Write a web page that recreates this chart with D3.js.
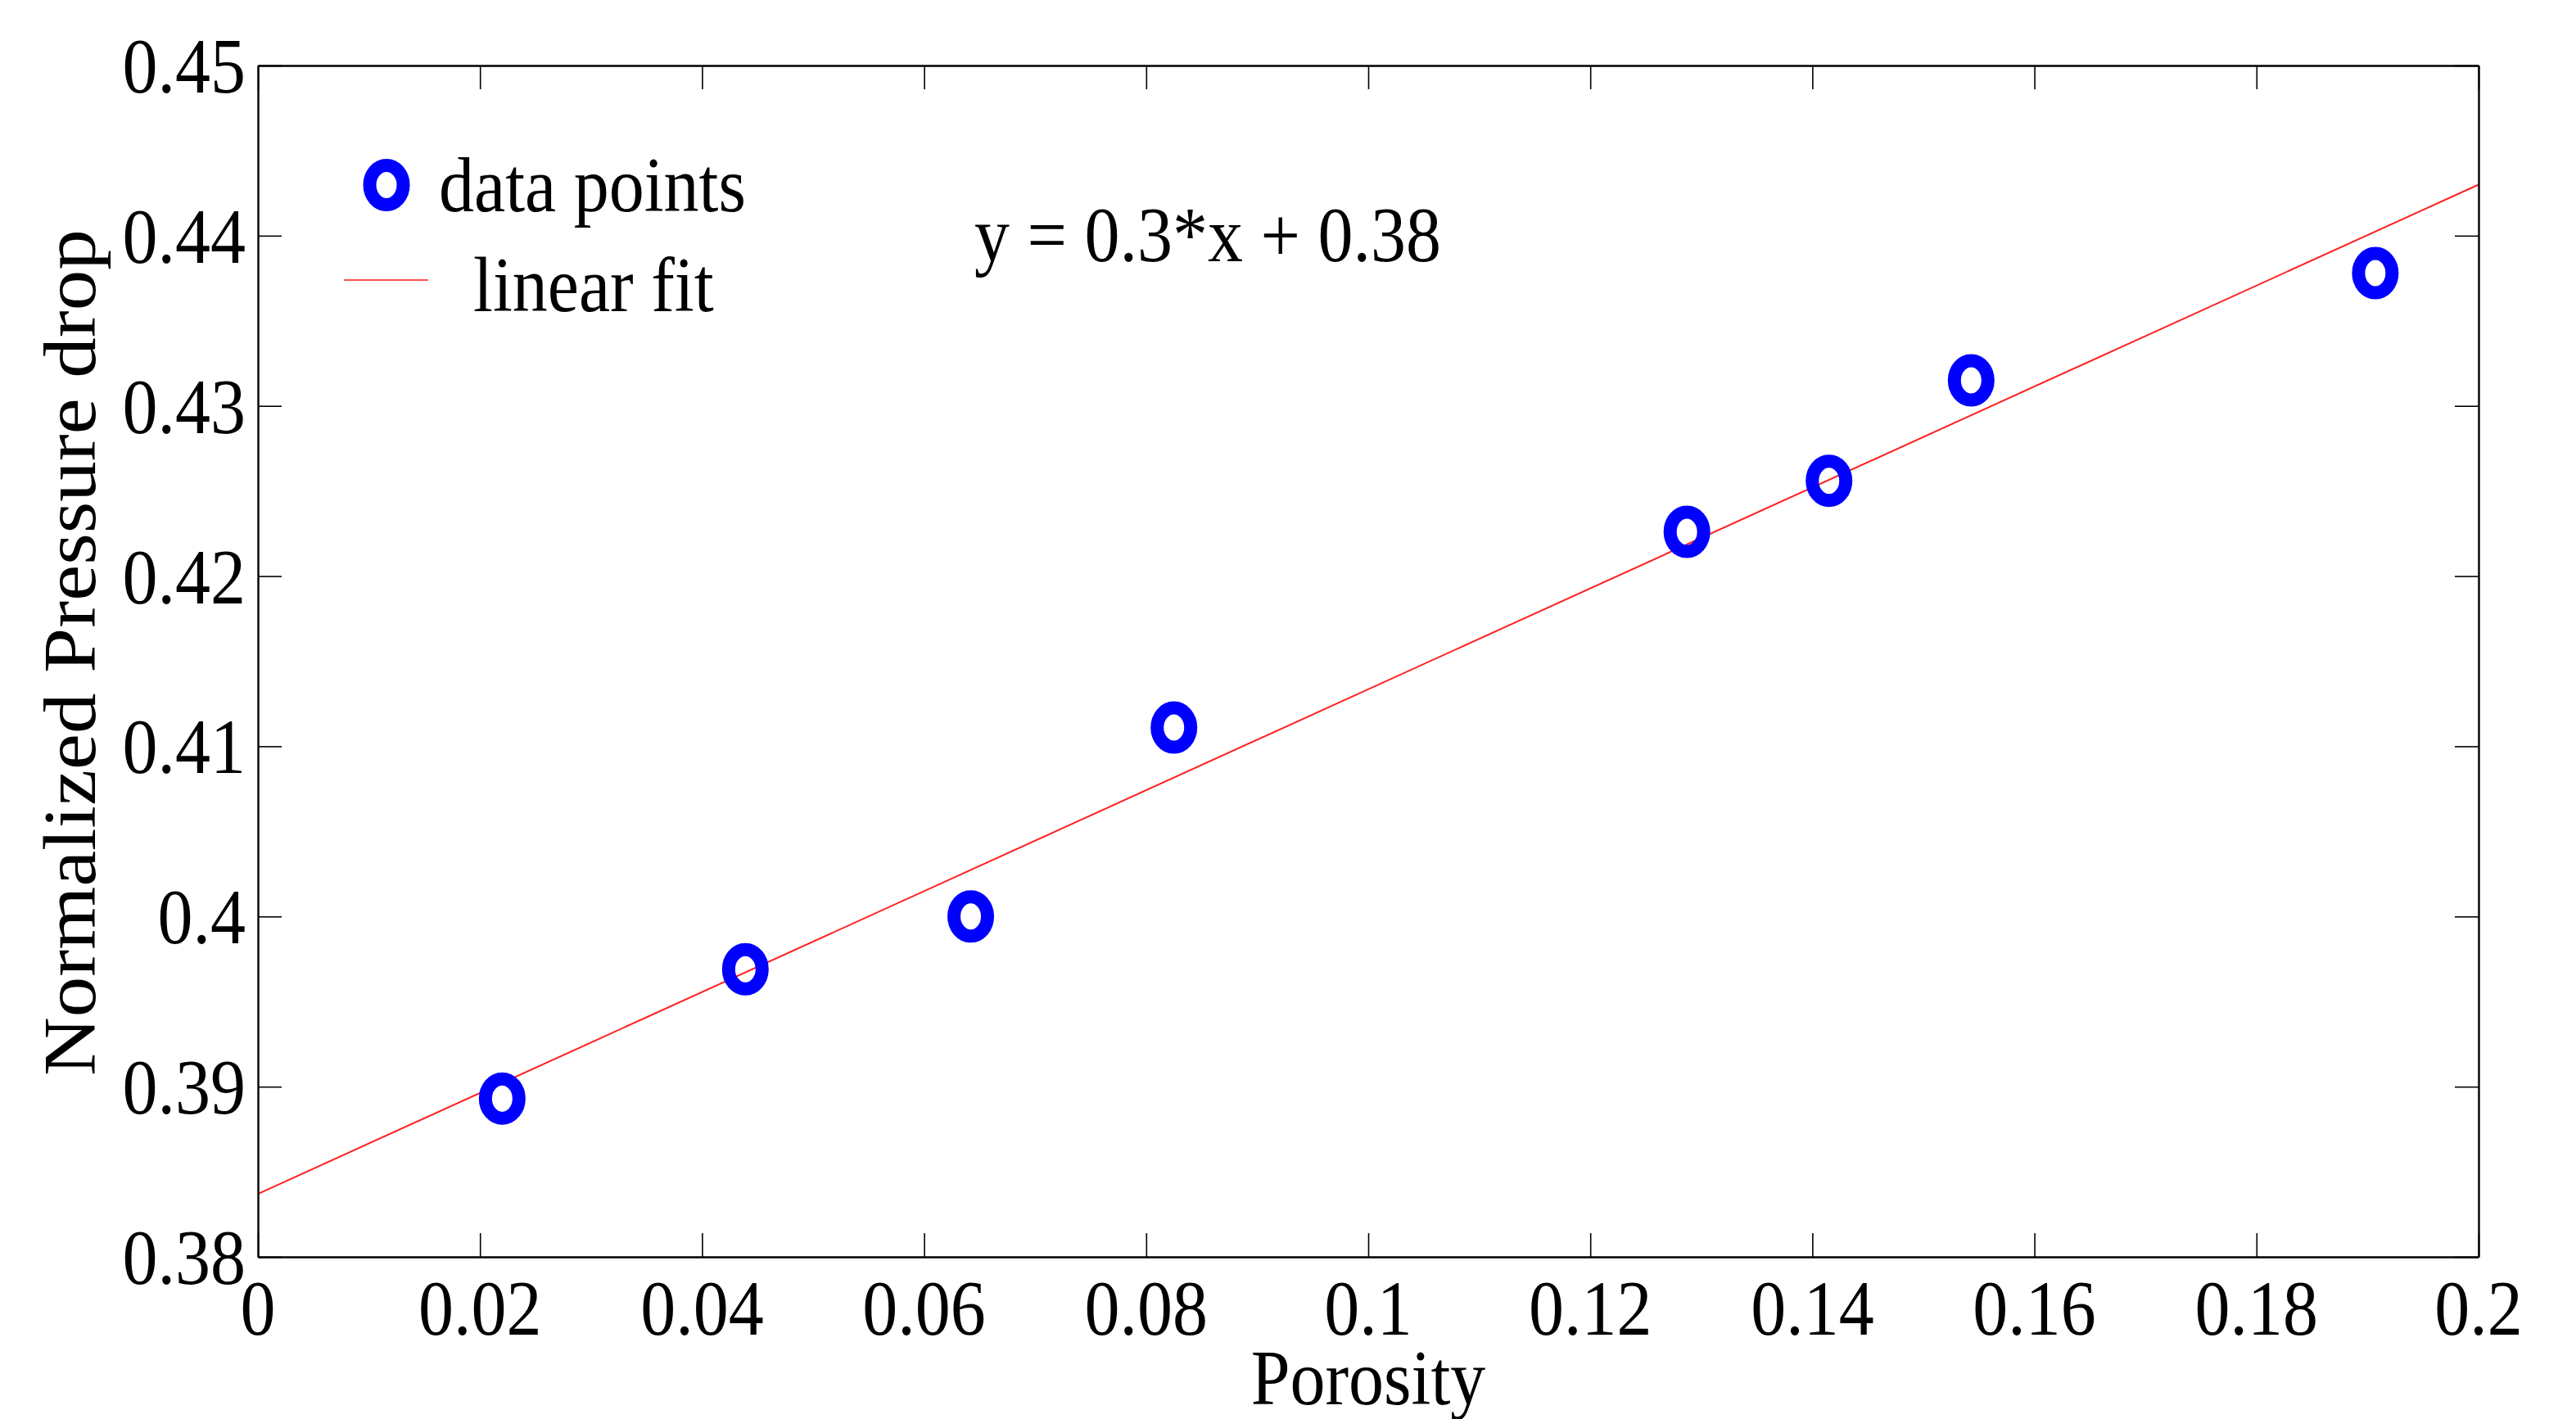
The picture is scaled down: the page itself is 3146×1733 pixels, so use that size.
<!DOCTYPE html>
<html>
<head>
<meta charset="utf-8">
<script src="https://cdn.jsdelivr.net/npm/d3@7"></script>
<style>
body { margin: 0; background: #fff; }
text { font-family: "Liberation Serif", "Times New Roman", serif; fill: #000; }
.tick-line { stroke: #000; stroke-width: 1.6; }
</style>
</head>
<body>
<div id="chart"></div>
<script>
// data
var porosity = [0.0220, 0.0439, 0.0642, 0.0825, 0.1287, 0.1415, 0.1543, 0.1907]
var pressureDrop = [0.3893, 0.3969, 0.4000, 0.4111, 0.4226, 0.4256, 0.4315, 0.4378]
var fitX = [0, 0.2]
var fitY = [0.3837, 0.4430]
var xTicks = [0, 0.02, 0.04, 0.06, 0.08, 0.1, 0.12, 0.14, 0.16, 0.18, 0.2]
var yTicks = [0.38, 0.39, 0.40, 0.41, 0.42, 0.43, 0.44, 0.45]
var xTickLabels = ['0', '0.02', '0.04', '0.06', '0.08', '0.1', '0.12', '0.14', '0.16', '0.18', '0.2']
var yTickLabels = ['0.38', '0.39', '0.4', '0.41', '0.42', '0.43', '0.44', '0.45']
var legendLabels = ['data points', 'linear fit']
var equationText = 'y = 0.3*x + 0.38'

var W = 3146, H = 1733
var plotL = 315, plotR = 3027, plotT = 80, plotB = 1535
var fs = 86, sy = 1.1, tickLen = 29

var svg = d3.select('#chart').append('svg').attr('width', W).attr('height', H)

var x = d3.scaleLinear().domain([0, 0.2]).range([plotL, plotR])
var y = d3.scaleLinear().domain([0.38, 0.45]).range([plotB, plotT])

// stretched text like the original picture
function label(g, tx, ty, str, anchor, size, rot) {
	return g.append('text')
		.attr('transform', 'translate(' + tx + ',' + ty + ') scale(1,' + sy + ')' + (rot ? ' rotate(' + rot + ')' : ''))
		.attr('text-anchor', anchor)
		.style('font-size', size + 'px')
		.text(str)
}

// fit line
svg.append('path').datum(d3.zip(fitX, fitY))
	.attr('fill', 'none').attr('stroke', '#ff2020').attr('stroke-width', 2)
	.attr('d', d3.line().x(function(d){ return x(d[0]) }).y(function(d){ return y(d[1]) }))

// axes box with inward ticks on all sides
var axes = svg.append('g')
axes.append('g').attr('transform', 'translate(0,' + plotB + ')')
	.call(d3.axisBottom(x).tickValues(xTicks).tickSizeInner(-tickLen).tickSizeOuter(0).tickFormat(''))
axes.append('g').attr('transform', 'translate(0,' + plotT + ')')
	.call(d3.axisTop(x).tickValues(xTicks).tickSizeInner(-tickLen).tickSizeOuter(0).tickFormat(''))
axes.append('g').attr('transform', 'translate(' + plotL + ',0)')
	.call(d3.axisLeft(y).tickValues(yTicks).tickSizeInner(-tickLen).tickSizeOuter(0).tickFormat(''))
axes.append('g').attr('transform', 'translate(' + plotR + ',0)')
	.call(d3.axisRight(y).tickValues(yTicks).tickSizeInner(-tickLen).tickSizeOuter(0).tickFormat(''))
axes.selectAll('.domain').attr('stroke', '#000').attr('stroke-width', 2.4)
axes.selectAll('.tick line').attr('class', 'tick-line')

// tick labels
var xl = svg.append('g')
xTicks.forEach(function(v, i){ label(xl, x(v), 1630, xTickLabels[i], 'middle', fs) })
var yl = svg.append('g')
yTicks.forEach(function(v, i){ label(yl, 300, y(v) + 33, yTickLabels[i], 'end', fs) })

// axis titles
label(svg, (plotL + plotR) / 2, 1715, 'Porosity', 'middle', fs)
label(svg, 116, 797, 'Normalized Pressure drop', 'middle', 90, -90)

// data markers
function ring(g, cx, cy) {
	g.append('ellipse').attr('cx', cx).attr('cy', cy)
		.attr('rx', 20.5).attr('ry', 24)
		.attr('fill', 'none').attr('stroke', '#0000ff').attr('stroke-width', 16)
}
var pts = svg.append('g')
porosity.forEach(function(v, i){ ring(pts, x(v), y(pressureDrop[i])) })

// legend
var lg = svg.append('g')
ring(lg, 472, 226)
label(lg, 536, 258, legendLabels[0], 'start', fs)
lg.append('line').attr('x1', 420).attr('x2', 523).attr('y1', 342).attr('y2', 342)
	.attr('stroke', '#ff5050').attr('stroke-width', 2)
label(lg, 578, 380, legendLabels[1], 'start', fs)

// equation
label(svg, 1190, 319, equationText, 'start', fs)
</script>
</body>
</html>
